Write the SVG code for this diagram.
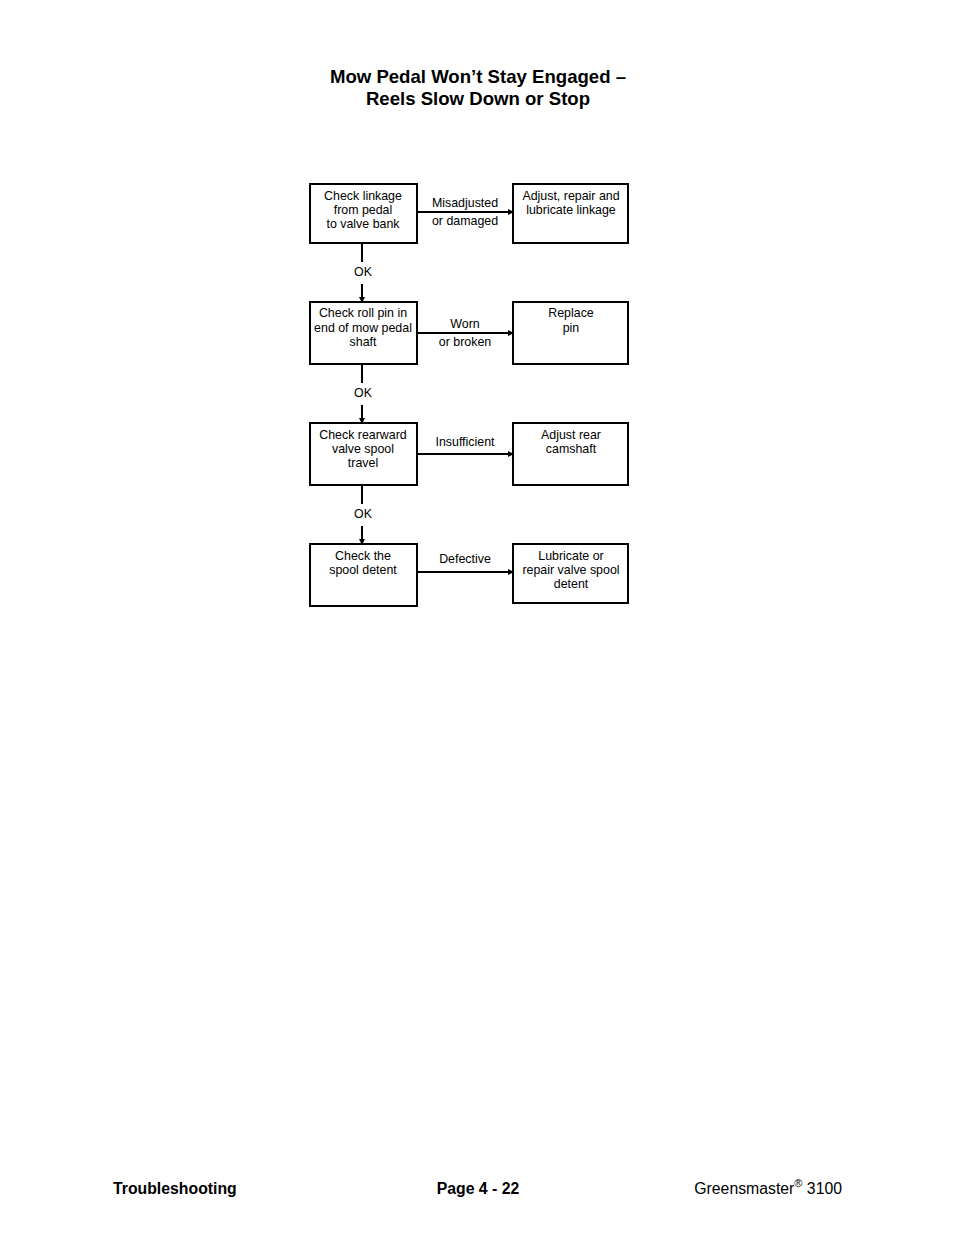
<svg xmlns="http://www.w3.org/2000/svg" width="954" height="1235" viewBox="0 0 954 1235">
<style>
text{font-family:"Liberation Sans",Arial,sans-serif;fill:#000}
.t{font-size:18.6px;font-weight:bold;text-anchor:middle}
.n{font-size:12.4px;text-anchor:middle}
.box{fill:#fff;stroke:#000;stroke-width:2}
.c{stroke:#000;stroke-width:2;fill:none;marker-end:url(#ah)}
.p{stroke:#000;stroke-width:2;fill:none}
.f{font-size:15.8px}
</style>
<defs>
<marker id="ah" markerWidth="6" markerHeight="6" refX="5" refY="3" orient="auto" markerUnits="userSpaceOnUse">
<path d="M0,0 L6,3 L0,6 z" fill="#000"/>
</marker>
</defs>
<rect width="954" height="1235" fill="#fff"/>
<text class="t" x="478" y="83">Mow Pedal Won’t Stay Engaged –</text>
<text class="t" x="478" y="105">Reels Slow Down or Stop</text>

<g id="connectors">
<line class="c" x1="417" y1="212" x2="513" y2="212"/>
<line class="c" x1="417" y1="333" x2="513" y2="333"/>
<line class="c" x1="417" y1="454" x2="513" y2="454"/>
<line class="c" x1="417" y1="572" x2="513" y2="572"/>
<line class="p" x1="362" y1="243" x2="362" y2="262"/>
<line class="c" x1="362" y1="284" x2="362" y2="302"/>
<line class="p" x1="362" y1="364" x2="362" y2="383"/>
<line class="c" x1="362" y1="405" x2="362" y2="423"/>
<line class="p" x1="362" y1="485" x2="362" y2="504"/>
<line class="c" x1="362" y1="526" x2="362" y2="544"/>
<text class="n" x="363" y="276">OK</text>
<text class="n" x="363" y="397">OK</text>
<text class="n" x="363" y="518">OK</text>
<text class="n" x="465" y="207">Misadjusted</text>
<text class="n" x="465" y="225">or damaged</text>
<text class="n" x="465" y="328">Worn</text>
<text class="n" x="465" y="346">or broken</text>
<text class="n" x="465" y="446">Insufficient</text>
<text class="n" x="465" y="563">Defective</text>
</g>

<g id="n1"><rect class="box" x="310" y="184" width="107" height="59"/>
<text class="n" x="363" y="200">Check linkage</text><text class="n" x="363" y="214">from pedal</text><text class="n" x="363" y="228">to valve bank</text></g>
<g id="n2"><rect class="box" x="513" y="184" width="115" height="59"/>
<text class="n" x="571" y="200">Adjust, repair and</text><text class="n" x="571" y="214">lubricate linkage</text></g>
<g id="n3"><rect class="box" x="310" y="302" width="107" height="62"/>
<text class="n" x="363" y="317">Check roll pin in</text><text class="n" x="363" y="332">end of mow pedal</text><text class="n" x="363" y="346">shaft</text></g>
<g id="n4"><rect class="box" x="513" y="302" width="115" height="62"/>
<text class="n" x="571" y="317">Replace</text><text class="n" x="571" y="332">pin</text></g>
<g id="n5"><rect class="box" x="310" y="423" width="107" height="62"/>
<text class="n" x="363" y="439">Check rearward</text><text class="n" x="363" y="453">valve spool</text><text class="n" x="363" y="467">travel</text></g>
<g id="n6"><rect class="box" x="513" y="423" width="115" height="62"/>
<text class="n" x="571" y="439">Adjust rear</text><text class="n" x="571" y="453">camshaft</text></g>
<g id="n7"><rect class="box" x="310" y="544" width="107" height="62"/>
<text class="n" x="363" y="560">Check the</text><text class="n" x="363" y="574">spool detent</text></g>
<g id="n8"><rect class="box" x="513" y="544" width="115" height="59"/>
<text class="n" x="571" y="560">Lubricate or</text><text class="n" x="571" y="574">repair valve spool</text><text class="n" x="571" y="588">detent</text></g>

<text class="f" x="113" y="1194" font-weight="bold">Troubleshooting</text>
<text class="f" x="478" y="1194" font-weight="bold" text-anchor="middle">Page 4 - 22</text>
<text class="f" x="842" y="1194" text-anchor="end">Greensmaster<tspan font-size="11" dy="-7">®</tspan><tspan dy="7"> 3100</tspan></text>
</svg>
